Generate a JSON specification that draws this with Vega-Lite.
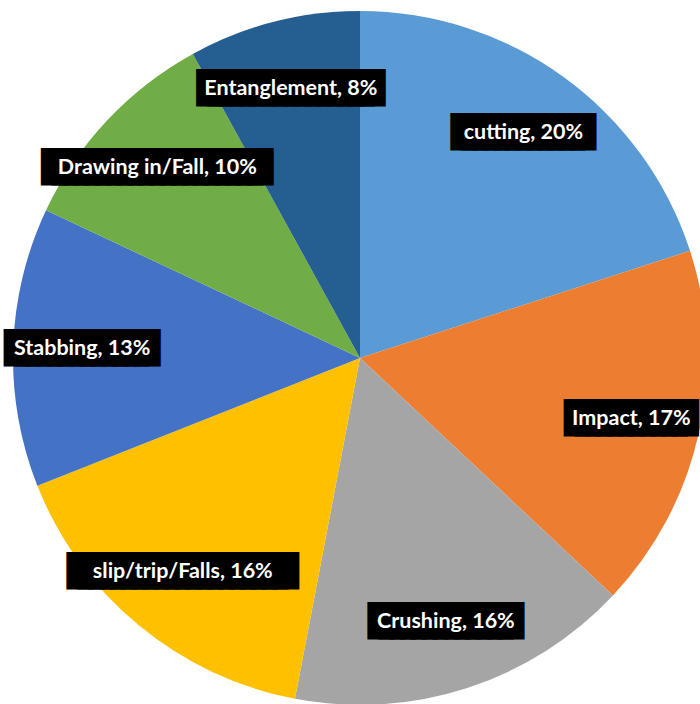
{
  "$schema": "https://vega.github.io/schema/vega-lite/v6.json",
  "width": 700,
  "height": 704,
  "autosize": "none",
  "padding": {"left": 10, "top": 6, "right": 0, "bottom": 0},
  "background": "white",
  "view": {"stroke": null},
  "data": {
    "values": [
      {"category": "cutting", "pct": 20},
      {"category": "Impact", "pct": 17},
      {"category": "Crushing", "pct": 16},
      {"category": "slip/trip/Falls", "pct": 16},
      {"category": "Stabbing", "pct": 13},
      {"category": "Drawing in/Fall", "pct": 10},
      {"category": "Entanglement", "pct": 8}
    ]
  },
  "transform": [
    {"calculate": "datum.category + ', ' + datum.pct + '%'", "as": "label"},
    {"calculate": "pad('', length(datum.label), '█')", "as": "box"}
  ],
  "encoding": {
    "theta": {"field": "pct", "type": "quantitative", "stack": true},
    "order": {"field": "pct", "type": "quantitative", "sort": "descending"}
  },
  "layer": [
    {
      "mark": {"type": "arc", "outerRadius": 347},
      "encoding": {
        "color": {
          "field": "category",
          "type": "nominal",
          "sort": null,
          "scale": {
            "domain": ["cutting", "Impact", "Crushing", "slip/trip/Falls", "Stabbing", "Drawing in/Fall", "Entanglement"],
            "range": ["#5B9BD5", "#ED7D31", "#A5A5A5", "#FFC000", "#4472C4", "#70AD47", "#255E91"]
          },
          "legend": null
        }
      }
    },
    {
      "mark": {"type": "text", "radius": 278, "font": "DejaVu Sans Mono", "fontSize": 18, "fill": "black", "stroke": "black", "strokeWidth": 16, "strokeJoin": "miter", "baseline": "middle", "align": "center"},
      "encoding": {"text": {"field": "box"}, "detail": {"field": "category"}}
    },
    {
      "mark": {"type": "text", "radius": 278, "font": "Lato", "fontWeight": "bold", "fontSize": 21.5, "fill": "white", "baseline": "middle", "align": "center"},
      "encoding": {"text": {"field": "label"}, "detail": {"field": "category"}}
    }
  ]
}
